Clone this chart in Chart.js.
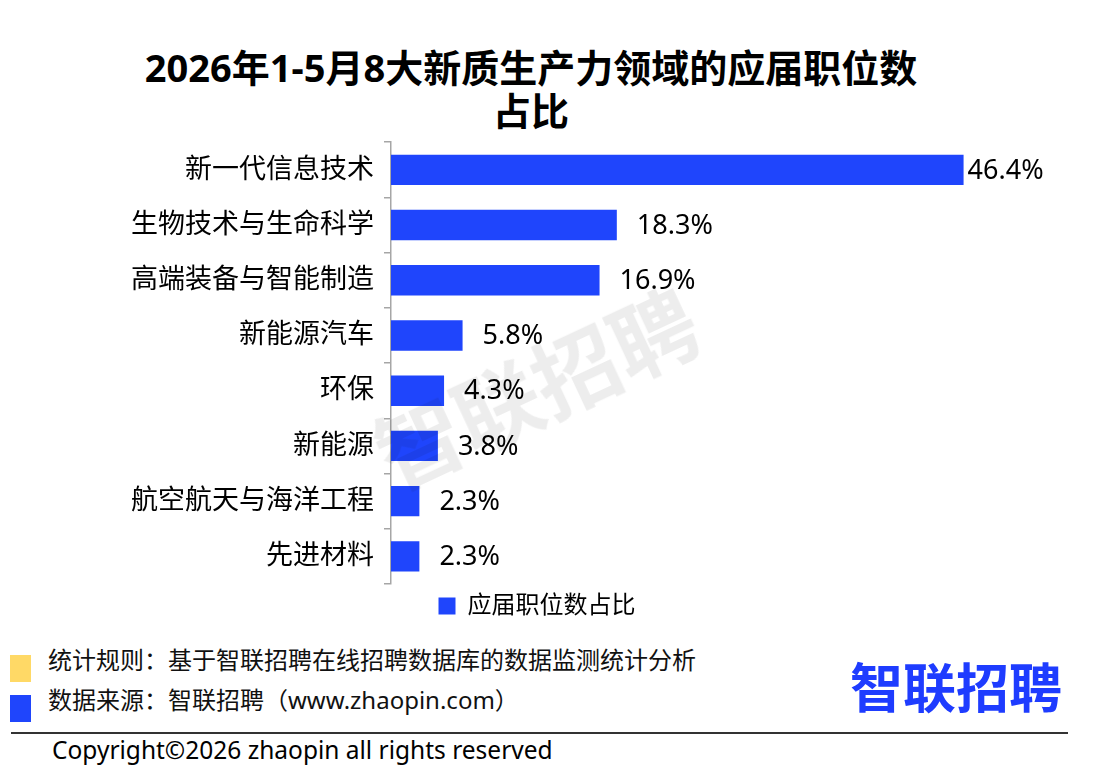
<!DOCTYPE html>
<html>
<head>
<meta charset="utf-8">
<script src="https://cdn.jsdelivr.net/npm/chart.js@4.4.1/dist/chart.umd.min.js"></script>
<style>
  body { margin: 0; width: 1108px; height: 770px; overflow: hidden; background: #fff;
         font-family: "Noto Sans", "Noto Sans CJK SC", sans-serif; position: relative; }
  .abs { position: absolute; }
  #title { left: 0; top: 46px; width: 1062px; text-align: center; font-size: 38px; font-weight: bold;
           line-height: 43px; color: #000; }
  #chartBox { left: 0; top: 116px; width: 1108px; height: 512px; }
  .note { left: 48px; font-size: 24px; color: #111; line-height: 30px; }
  .sq { left: 10px; width: 21px; height: 27px; }
  #rule { left: 11px; top: 732px; width: 1057px; height: 2px; background: #333; }
  #copy { left: 52px; top: 735px; font-size: 24.5px; color: #000; line-height: 30px; }
  #logo { left: 850px; top: 656px; font-size: 53px; font-weight: bold; color: #1e3cff; line-height: 64px; }
  #mark { left: 535px; top: 385px; font-size: 86px; font-weight: bold; color: rgba(0,0,0,0.07);
          transform: translate(-50%, -50%) rotate(-25deg); white-space: nowrap; pointer-events: none; }
</style>
</head>
<body>
<div id="title" class="abs">2026年1-5月8大新质生产力领域的应届职位数<br>占比</div>
<div id="chartBox" class="abs"><canvas id="chart"></canvas></div>
<div class="abs sq" style="top:655px;background:#ffd966;"></div>
<div class="abs sq" style="top:695px;background:#1f45fc;"></div>
<div class="abs note" style="top:645px;">统计规则：基于智联招聘在线招聘数据库的数据监测统计分析</div>
<div class="abs note" style="top:685px;">数据来源：智联招聘（www.zhaopin.com）</div>
<div id="logo" class="abs">智联招聘</div>
<div id="rule" class="abs"></div>
<div id="copy" class="abs">Copyright©2026 zhaopin all rights reserved</div>
<div id="mark" class="abs">智联招聘</div>
<script>
const bar_blue = "#1f45fc";
const axis_grey = "#a6a6a6";

const categories = ["新一代信息技术", "生物技术与生命科学", "高端装备与智能制造", "新能源汽车",
                    "环保", "新能源", "航空航天与海洋工程", "先进材料"];
const shares = [46.4, 18.3, 16.9, 5.8, 4.3, 3.8, 2.3, 2.3];
const series_name = "应届职位数占比";

Chart.defaults.font.family = "'Noto Sans', 'Noto Sans CJK SC', sans-serif";
Chart.defaults.color = "#000";

// value labels at the end of each bar
const bar_labels = {
    id: "bar_labels",
    afterDatasetsDraw(chart) {
        const ctx = chart.ctx;
        const meta = chart.getDatasetMeta(0);
        const top = Math.max(...shares);
        ctx.save();
        ctx.font = "27px 'Noto Sans', 'Noto Sans CJK SC', sans-serif";
        ctx.fillStyle = "#000";
        ctx.textBaseline = "middle";
        ctx.textAlign = "left";
        meta.data.forEach((bar, i) => {
            const gap = shares[i] === top ? 4 : 20;
            ctx.fillText(shares[i].toFixed(1) + "%", bar.x + gap, bar.y + 1);
        });
        ctx.restore();
    }
};

const chart_config = {
    type: "bar",
    data: {
        labels: categories,
        datasets: [{
            label: series_name,
            data: shares,
            backgroundColor: bar_blue,
            categoryPercentage: 1,
            barPercentage: 0.55,
        }]
    },
    options: {
        indexAxis: "y",
        animation: false,
        maintainAspectRatio: false,
        responsive: true,
        devicePixelRatio: 1,
        layout: { padding: { left: 66, right: 100, top: 12, bottom: 0 } },
        scales: {
            x: { display: false, min: 0, max: 50 },
            y: {
                grid: { drawOnChartArea: false, tickLength: 7, color: axis_grey, lineWidth: 1.5 },
                border: { color: axis_grey, width: 1.5 },
                ticks: { font: { size: 27 }, color: "#000", padding: 10 },
                afterFit: (s) => { s.width = 325; }
            }
        },
        plugins: {
            legend: {
                position: "bottom",
                labels: { boxWidth: 17, boxHeight: 17, font: { size: 24 }, color: "#000", padding: 10 },
                onClick: (e) => e.stopPropagation()
            },
            tooltip: { enabled: false }
        }
    },
    plugins: [bar_labels]
};
const ctx = document.getElementById("chart");
const share_chart = new Chart(ctx, chart_config);
</script>
</body>
</html>
